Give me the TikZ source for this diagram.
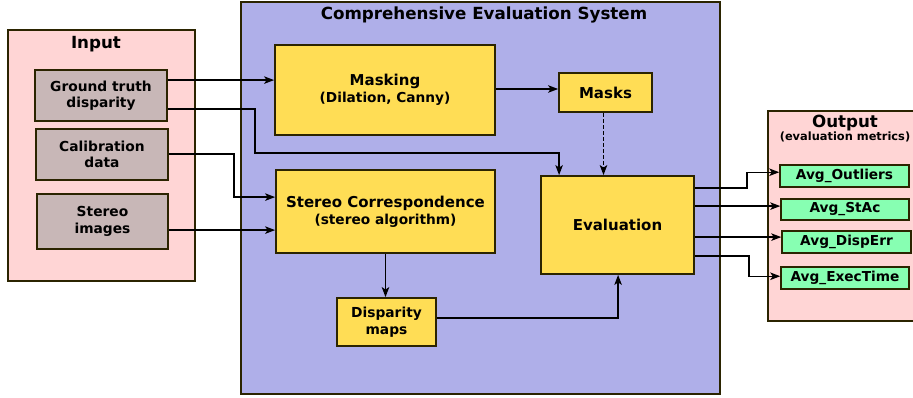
\documentclass[tikz,border=0pt]{standalone}
\usepackage{fontspec}
\setmainfont{DejaVu Sans}
\usetikzlibrary{arrows.meta,calc}
\definecolor{pinkbg}{HTML}{FFD5D5}
\definecolor{graybox}{HTML}{C8B7B7}
\definecolor{purplebg}{HTML}{AFAFE9}
\definecolor{yellowbox}{HTML}{FFDD55}
\definecolor{greenbox}{HTML}{87FFB2}
\definecolor{edge}{HTML}{2B2400}
\tikzset{
  box/.style={draw=edge, line width=1.8pt, inner sep=0pt, align=center, font=\bfseries},
  panel/.style={box, line width=1.5pt},
  inbox/.style={box, fill=graybox, font=\fontsize{13.8}{16.5}\selectfont\bfseries},
  ybox/.style={box, fill=yellowbox, font=\fontsize{15}{18}\selectfont\bfseries},
  gbox/.style={box, line width=1.5pt, fill=greenbox, font=\fontsize{13.7}{16}\selectfont\bfseries},
  arr/.style={line width=1.3pt, -{Stealth[length=10pt,width=7.5pt,inset=2.5pt]}},
  ttl/.style={font=\fontsize{16.7}{19}\selectfont\bfseries, inner sep=0pt},
}
\begin{document}
\begin{tikzpicture}[x=1pt,y=-1pt]
\useasboundingbox (0,0) rectangle (913,398);
\clip (0,0) rectangle (913,398);
% panels
\node[panel, fill=pinkbg, minimum width=187pt, minimum height=251pt] (inp) at (101.5,155.5) {};
\node[ttl] (inpt) at (96,44) {Input};
\node[panel, fill=purplebg, minimum width=479pt, minimum height=392pt] (sys) at (480.5,198) {};
\node[ttl] (syst) at (484,15) {Comprehensive Evaluation System};
\node[panel, fill=pinkbg, minimum width=150pt, minimum height=210pt] (outp) at (843,216) {};
\node[ttl] (outpt) at (845,123) {Output};
\node[font=\fontsize{11.4}{13}\selectfont\bfseries, inner sep=0pt] (outps) at (845,137) {(evaluation metrics)};
% input boxes
\node[inbox, minimum width=132pt, minimum height=51pt] (gt) at (101,95.5) {Ground truth\\disparity};
\node[inbox, minimum width=132pt, minimum height=51pt] (cal) at (102,154.5) {Calibration\\data};
\node[inbox, minimum width=131pt, minimum height=55pt] (si) at (102.5,221.5) {Stereo\\images};
% system boxes
\node[ybox, minimum width=220pt, minimum height=90pt] (mask) at (385,90) {Masking\\[-1pt]{\fontsize{13.7}{16}\selectfont (Dilation, Canny)}};
\node[ybox, minimum width=93pt, minimum height=39pt] (masks) at (605.5,92.5) {Masks};
\node[ybox, minimum width=153pt, minimum height=98pt] (eval) at (617.5,225) {Evaluation};
\node[ybox, minimum width=219pt, minimum height=83pt] (sc) at (385.5,211.5) {Stereo Correspondence\\[-1pt]{\fontsize{13.7}{16}\selectfont (stereo algorithm)}};
\node[ybox, minimum width=99pt, minimum height=48pt, font=\fontsize{13.8}{17}\selectfont\bfseries] (dm) at (386.5,322) {Disparity\\maps};
% outputs
\node[gbox, minimum width=129pt, minimum height=22pt] (o1) at (844.5,176) {Avg\_Outliers};
\node[gbox, minimum width=128pt, minimum height=21pt] (o2) at (845,209.5) {Avg\_StAc};
\node[gbox, minimum width=129pt, minimum height=22pt] (o3) at (846.5,242) {Avg\_DispErr};
\node[gbox, minimum width=128pt, minimum height=22pt] (o4) at (845,278) {Avg\_ExecTime};
% connectors
\draw[arr] ($(gt.north east)+(0,11)$) coordinate (a1) -- (a1 -| mask.west);
\draw[arr] ($(gt.north east)+(0,40)$) -- ++(87,0) -- ++(0,44) -| ($(eval.north west)+(19,0)$);
\draw[arr] ($(cal.north east)+(0,26)$) -- ++(65,0) |- ($(sc.north west)+(0,28)$);
\draw[arr] ($(si.north east)+(0,37)$) coordinate (a2) -- (a2 -| sc.west);
\draw[arr] ($(mask.east)+(0,-1)$) coordinate (a3) -- (a3 -| masks.west);
\draw[arr, dash pattern=on 4pt off 2pt] ($(masks.south)+(-2,0)$) coordinate (a4) -- (a4 |- eval.north);
\draw[arr] (sc.south) -- (sc.south |- dm.north);
\draw[arr] ($(dm.east)+(0,-4)$) -| ($(eval.south west)+(78,0)$);
\draw[arr] ($(eval.north east)+(0,13)$) -- ++(52,0) |- ($(o1.north west)+(0,8)$);
\draw[arr] ($(eval.north east)+(0,31)$) coordinate (a5) -- (a5 -| o2.west);
\draw[arr] ($(eval.north east)+(0,62)$) coordinate (a6) -- (a6 -| o3.west);
\draw[arr] ($(eval.north east)+(0,81)$) -- ++(54,0) |- ($(o4.north west)+(0,10)$);
\end{tikzpicture}
\end{document}
